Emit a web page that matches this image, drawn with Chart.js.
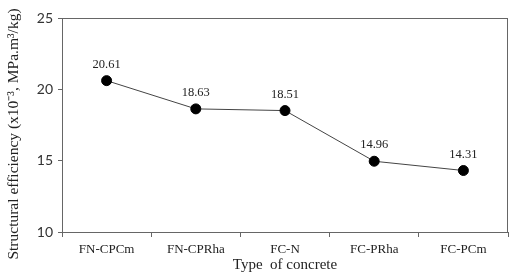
<!DOCTYPE html>
<html>
<head>
<meta charset="utf-8">
<script src="https://cdn.jsdelivr.net/npm/chart.js@4"></script>
<style>
  body { margin: 0; background: #fff; }
</style>
</head>
<body>
<canvas id="lineChart" width="514" height="277"></canvas>
<script>
const categories = ["FN-CPCm", "FN-CPRha", "FC-N", "FC-PRha", "FC-PCm"];
const efficiency = [20.61, 18.63, 18.51, 14.96, 14.31];
const yTicks = [10, 15, 20, 25];
const yTitle = "Structural efficiency (x10\u207B\u00B3, MPa.m\u00B3/kg)";

// box around plot area, value labels above points, y title (sits a bit low in the original)
const framePlugin = {
    id: "frame",
    afterDatasetsDraw(chart) {
        const c = chart.ctx, a = chart.chartArea;
        c.save();
        c.strokeStyle = "#666";
        c.lineWidth = 1;
        c.strokeRect(a.left + 0.5, a.top + 0.5, a.right - a.left - 1, a.bottom - a.top);
        c.fillStyle = "#222";
        c.font = "12.5px 'Liberation Serif'";
        c.textAlign = "center";
        c.textBaseline = "bottom";
        chart.getDatasetMeta(0).data.forEach(function (pt, i) {
            c.fillText(efficiency[i].toFixed(2), pt.x, pt.y - 10);
        });
        c.translate(14, (a.top + a.bottom) / 2 + 9);
        c.rotate(-Math.PI / 2);
        c.textBaseline = "middle";
        c.font = "15.5px 'Liberation Serif'";
        c.fillText(yTitle, 0, 0);
        c.restore();
    }
};

new Chart(document.getElementById("lineChart"), {
    type: "line",
    data: {
        labels: categories,
        datasets: [{
            data: efficiency,
            borderColor: "#444",
            borderWidth: 1,
            pointRadius: 5,
            pointBackgroundColor: "#000",
            pointBorderColor: "#000",
            tension: 0
        }]
    },
    options: {
        responsive: false,
        animation: false,
        layout: { padding: { top: 18, right: 6, left: 0, bottom: 0 } },
        plugins: { legend: { display: false }, tooltip: { enabled: false } },
        scales: {
            x: {
                offset: true,
                grid: { offset: true, drawOnChartArea: false, tickLength: 5, color: "#666" },
                border: { color: "#666" },
                ticks: { color: "#222", font: { family: "Liberation Serif", size: 13 }, padding: 5, maxRotation: 0 },
                title: { display: true, text: "Type  of concrete", color: "#222",
                         font: { family: "Liberation Serif", size: 15 }, padding: { top: 0, bottom: 3 } },
                afterFit(s) { s.height = 45; }
            },
            y: {
                min: 10, max: 25,
                afterBuildTicks(s) { s.ticks = yTicks.map(v => ({ value: v })); },
                grid: { drawOnChartArea: false, tickLength: 4, color: "#666" },
                border: { color: "#666" },
                ticks: { color: "#333", font: { family: "Lato", size: 14 }, padding: 5 },
                afterFit(s) { s.width = 62; }
            }
        }
    },
    plugins: [framePlugin]
});
</script>
</body>
</html>
